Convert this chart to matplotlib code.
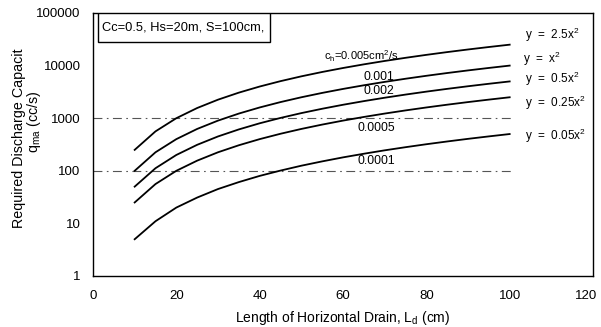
import matplotlib
matplotlib.use("Agg")
import matplotlib.pyplot as plt
from matplotlib.ticker import FixedLocator, FixedFormatter, NullLocator
from matplotlib.patches import Rectangle
from matplotlib.transforms import ScaledTranslation

plt.rcParams['font.family'] = ['Liberation Sans', 'DejaVu Sans']
plt.rcParams['mathtext.fontset'] = 'custom'
plt.rcParams['mathtext.rm'] = 'Liberation Sans'
plt.rcParams['mathtext.it'] = 'Liberation Sans:italic'

# Horizontal drain length (cm)
length_cm = [10, 15, 20, 25, 30, 35, 40, 45, 50, 55, 60, 65, 70, 75, 80, 85, 90, 95, 100]

# Required discharge capacity (cc/s)
q_ch_0005 = [250, 562, 1000, 1562, 2250, 3062, 4000, 5062, 6250, 7562, 9000,
             10562, 12250, 14062, 16000, 18062, 20250, 22562, 25000]
q_ch_001 = [100, 225, 400, 625, 900, 1225, 1600, 2025, 2500, 3025, 3600,
            4225, 4900, 5625, 6400, 7225, 8100, 9025, 10000]
q_ch_002 = [50, 112, 200, 312, 450, 612, 800, 1012, 1250, 1512, 1800,
            2112, 2450, 2812, 3200, 3612, 4050, 4512, 5000]
q_ch_00005 = [25, 56, 100, 156, 225, 306, 400, 506, 625, 756, 900,
              1056, 1225, 1406, 1600, 1806, 2025, 2256, 2500]
q_ch_00001 = [5, 11, 20, 31, 45, 61, 80, 101, 125, 151, 180,
              211, 245, 281, 320, 361, 405, 451, 500]

series = [q_ch_0005, q_ch_001, q_ch_002, q_ch_00005, q_ch_00001]

curve_labels = [r"c$_\mathregular{h}$=0.005cm$^\mathregular{2}$/s", "0.001", "0.002", "0.0005", "0.0001"]
curve_label_pos = [(55.4, 14800), (64.8, 6100), (64.8, 3350), (63.4, 660), (63.4, 156)]
curve_label_size = [8.0, 8.8, 8.8, 8.8, 8.8]

fit_labels = [r"y  =  2.5x$^\mathregular{2}$", r"y  =  x$^\mathregular{2}$", r"y  =  0.5x$^\mathregular{2}$",
              r"y  =  0.25x$^\mathregular{2}$", r"y  =  0.05x$^\mathregular{2}$"]
fit_label_pos = [(103.6, 38000), (103.2, 13300), (103.7, 5560), (103.7, 1950), (103.7, 460)]

y_ticks = [1, 10, 100, 1000, 10000, 100000]
y_tick_labels = ["1", "10", "100", "1000", "10000", "100000"]
x_ticks = [0, 20, 40, 60, 80, 100, 120]

fig = plt.figure(figsize=(6.01, 3.27), dpi=100)
ax = fig.add_axes([93 / 601, 51 / 327, 500 / 601, 263 / 327])

for ys in series:
    ax.plot(length_cm, ys, color='black', lw=1.3)

for yv in (100, 1000):
    ax.axhline(yv, xmin=0, xmax=100.5 / 120, color='#555555', lw=0.8,
               linestyle=(0, (8, 4, 1.5, 4)), zorder=0)

ax.set_yscale('log')
ax.set_xlim(0, 120)
ax.set_ylim(1, 100000)
ax.yaxis.set_major_locator(FixedLocator(y_ticks))
ax.yaxis.set_major_formatter(FixedFormatter(y_tick_labels))
ax.yaxis.set_minor_locator(NullLocator())
ax.set_xticks(x_ticks)
ax.tick_params(axis='both', length=0, labelsize=9.5)
ax.tick_params(axis='y', pad=9)
ax.tick_params(axis='x', pad=10)

# keep the last x tick label inside the figure
last = ax.get_xticklabels()[-1]
last.set_transform(last.get_transform() + ScaledTranslation(-5 / 72, 0, fig.dpi_scale_trans))

for s in ax.spines.values():
    s.set_linewidth(1.0)

for lab, (px, py), fs in zip(curve_labels, curve_label_pos, curve_label_size):
    ax.text(px, py, lab, fontsize=fs, ha='left', va='center')

for lab, (px, py) in zip(fit_labels, fit_label_pos):
    ax.text(px, py, lab, fontsize=8.5, ha='left', va='center')

ax.add_patch(Rectangle((0.01, 0.89), 0.344, 0.11, transform=ax.transAxes,
                       facecolor='white', edgecolor='black', lw=1.0, zorder=3))
ax.text(0.018, 0.945, "Cc=0.5, Hs=20m, S=100cm,", transform=ax.transAxes,
        fontsize=9.3, ha='left', va='center', zorder=4)

ax.set_xlabel(r"Length of Horizontal Drain, L$_\mathregular{d}$ (cm)", fontsize=10, labelpad=5)

fig.text(19 / 601, 1 - 138 / 327, "Required Discharge Capacit", rotation=90,
         fontsize=10.3, ha='center', va='center')
fig.text(34 / 601, 1 - 122 / 327, r"q$_\mathregular{ma}$ (cc/s)", rotation=90,
         fontsize=10.3, ha='center', va='center')

fig.savefig("out.png", dpi=100)
